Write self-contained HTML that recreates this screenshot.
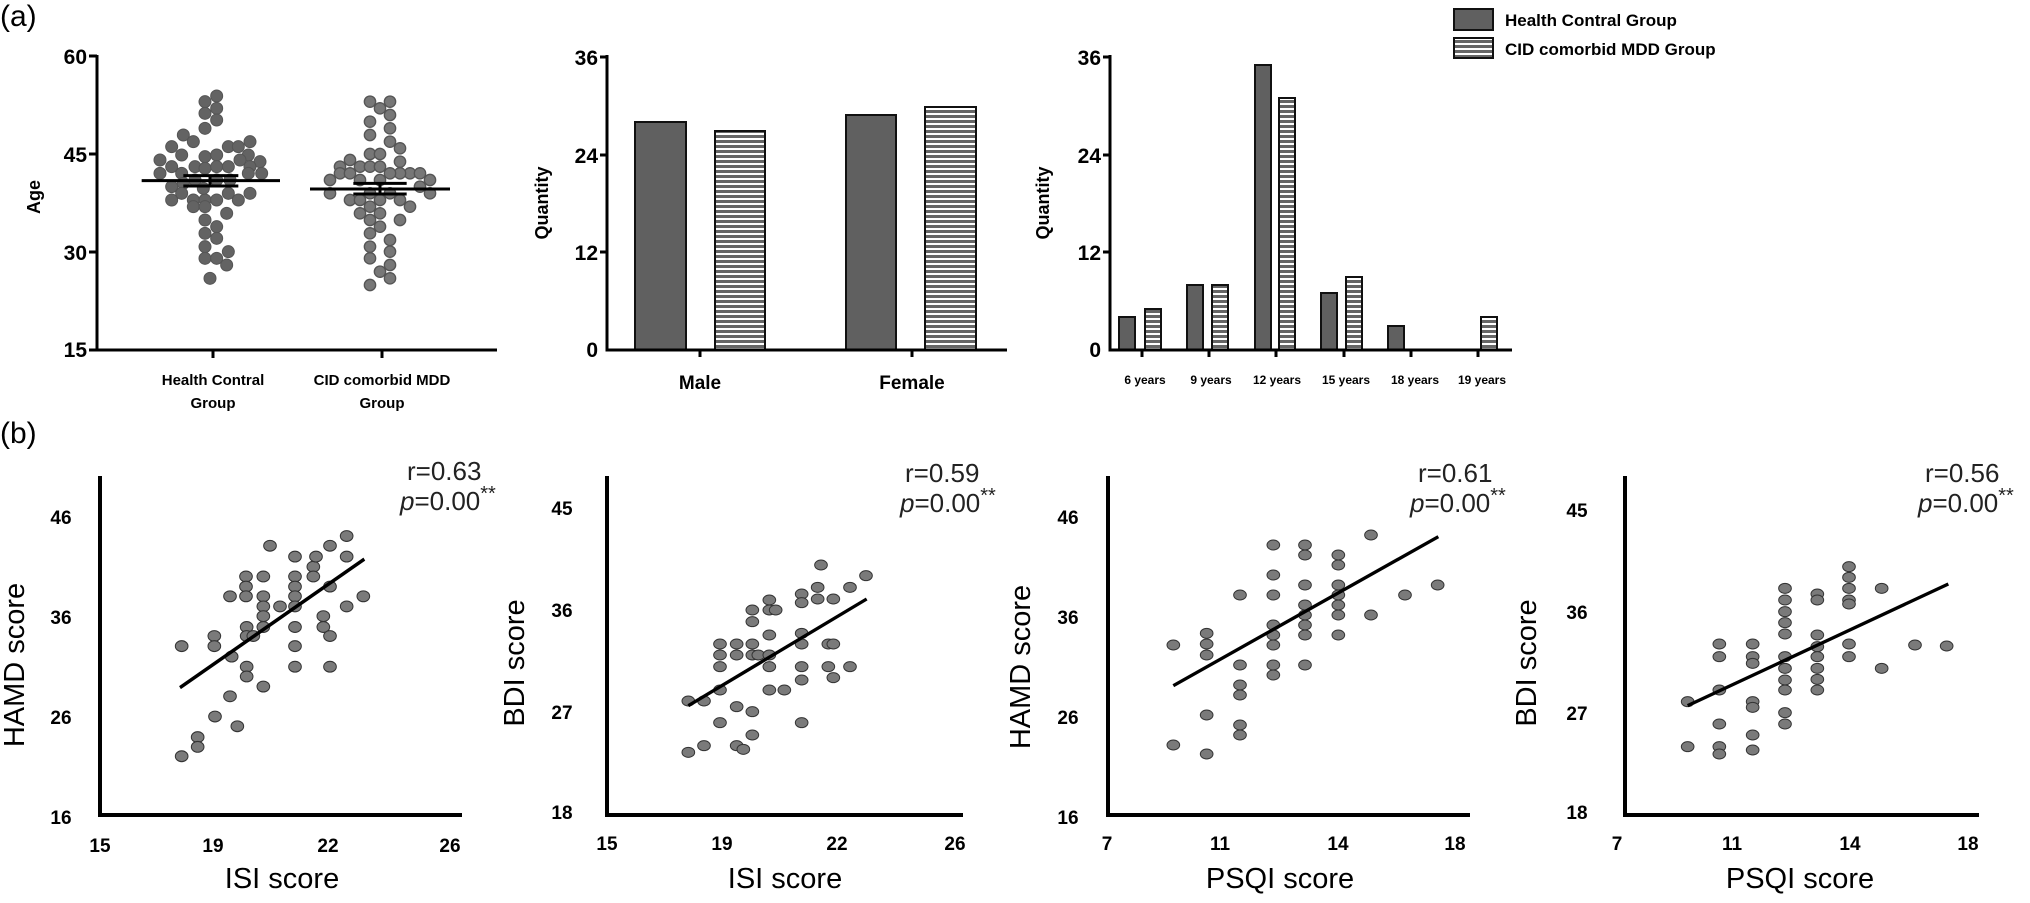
<!DOCTYPE html>
<html><head><meta charset="utf-8"><style>html,body{margin:0;padding:0;background:#fff}svg{display:block}</style></head><body>
<svg width="2030" height="903" viewBox="0 0 2030 903" xmlns="http://www.w3.org/2000/svg" font-family="'Liberation Sans', sans-serif">
<defs>
<pattern id="h" width="6" height="5" patternUnits="userSpaceOnUse"><rect width="6" height="5" fill="#fff"/><rect width="6" height="3" fill="#666"/></pattern>
</defs>
<rect width="2030" height="903" fill="#fff"/>
<text x="0" y="26" font-size="30">(a)</text>
<text x="0" y="443" font-size="30">(b)</text>

<!-- Panel a1 -->
<g stroke="#000" stroke-width="3" fill="none">
<path d="M97,55 V350 H497"/>
<path d="M89,56 H97 M89,154 H97 M89,252 H97 M89,350 H97 M213,350 V358 M382,350 V358"/>
</g>
<g font-size="21" font-weight="bold" text-anchor="end">
<text x="87" y="64">60</text><text x="87" y="162">45</text><text x="87" y="260">30</text><text x="87" y="357">15</text>
</g>
<text transform="translate(40,197) rotate(-90)" font-size="18" font-weight="bold" text-anchor="middle">Age</text>
<g font-size="15" font-weight="bold" text-anchor="middle">
<text x="213" y="385">Health Contral</text><text x="213" y="408">Group</text>
<text x="382" y="385">CID comorbid MDD</text><text x="382" y="408">Group</text>
</g>
<g transform="scale(0.33333)">
<g fill="#636363" stroke="#555" stroke-width="3">
<circle cx="650" cy="288" r="18"/><circle cx="615" cy="305" r="18"/><circle cx="650" cy="325" r="18"/><circle cx="615" cy="340" r="18"/><circle cx="650" cy="360" r="18"/><circle cx="615" cy="385" r="18"/><circle cx="550" cy="405" r="18"/><circle cx="580" cy="425" r="18"/><circle cx="515" cy="440" r="18"/><circle cx="685" cy="440" r="18"/><circle cx="715" cy="440" r="18"/><circle cx="750" cy="425" r="18"/><circle cx="480" cy="480" r="18"/><circle cx="545" cy="465" r="18"/><circle cx="615" cy="470" r="18"/><circle cx="650" cy="465" r="18"/><circle cx="745" cy="465" r="18"/><circle cx="780" cy="485" r="18"/><circle cx="515" cy="500" r="18"/><circle cx="480" cy="520" r="18"/><circle cx="545" cy="520" r="18"/><circle cx="585" cy="500" r="18"/><circle cx="615" cy="505" r="18"/><circle cx="650" cy="500" r="18"/><circle cx="685" cy="500" r="18"/><circle cx="720" cy="480" r="18"/><circle cx="750" cy="500" r="18"/><circle cx="785" cy="520" r="18"/><circle cx="515" cy="560" r="18"/><circle cx="550" cy="550" r="18"/><circle cx="585" cy="540" r="18"/><circle cx="650" cy="540" r="18"/><circle cx="690" cy="540" r="18"/><circle cx="745" cy="520" r="18"/><circle cx="515" cy="600" r="18"/><circle cx="580" cy="600" r="18"/><circle cx="615" cy="600" r="18"/><circle cx="650" cy="600" r="18"/><circle cx="685" cy="580" r="18"/><circle cx="715" cy="600" r="18"/><circle cx="750" cy="580" r="18"/><circle cx="580" cy="620" r="18"/><circle cx="615" cy="620" r="18"/><circle cx="680" cy="640" r="18"/><circle cx="615" cy="660" r="18"/><circle cx="650" cy="680" r="18"/><circle cx="615" cy="700" r="18"/><circle cx="650" cy="715" r="18"/><circle cx="615" cy="740" r="18"/><circle cx="685" cy="755" r="18"/><circle cx="615" cy="775" r="18"/><circle cx="650" cy="775" r="18"/><circle cx="680" cy="795" r="18"/><circle cx="630" cy="835" r="18"/><circle cx="545" cy="580" r="18"/><circle cx="610" cy="565" r="18"/>
</g>
<g fill="#777" stroke="#555" stroke-width="4">
<circle cx="1110" cy="305" r="17"/><circle cx="1140" cy="325" r="17"/><circle cx="1170" cy="305" r="17"/><circle cx="1170" cy="345" r="17"/><circle cx="1110" cy="365" r="17"/><circle cx="1170" cy="385" r="17"/><circle cx="1110" cy="405" r="17"/><circle cx="1170" cy="425" r="17"/><circle cx="1200" cy="445" r="17"/><circle cx="1110" cy="462" r="17"/><circle cx="1140" cy="462" r="17"/><circle cx="1200" cy="485" r="17"/><circle cx="1050" cy="480" r="17"/><circle cx="1080" cy="500" r="17"/><circle cx="1020" cy="500" r="17"/><circle cx="1110" cy="500" r="17"/><circle cx="1140" cy="500" r="17"/><circle cx="990" cy="540" r="17"/><circle cx="1020" cy="520" r="17"/><circle cx="1050" cy="520" r="17"/><circle cx="1230" cy="520" r="17"/><circle cx="1260" cy="520" r="17"/><circle cx="1290" cy="540" r="17"/><circle cx="1200" cy="520" r="17"/><circle cx="1170" cy="520" r="17"/><circle cx="1080" cy="540" r="17"/><circle cx="1140" cy="540" r="17"/><circle cx="990" cy="580" r="17"/><circle cx="1050" cy="600" r="17"/><circle cx="1080" cy="600" r="17"/><circle cx="1110" cy="580" r="17"/><circle cx="1140" cy="600" r="17"/><circle cx="1170" cy="580" r="17"/><circle cx="1200" cy="600" r="17"/><circle cx="1230" cy="620" r="17"/><circle cx="1290" cy="580" r="17"/><circle cx="1260" cy="560" r="17"/><circle cx="1080" cy="640" r="17"/><circle cx="1110" cy="620" r="17"/><circle cx="1140" cy="640" r="17"/><circle cx="1110" cy="660" r="17"/><circle cx="1140" cy="680" r="17"/><circle cx="1200" cy="660" r="17"/><circle cx="1110" cy="700" r="17"/><circle cx="1110" cy="740" r="17"/><circle cx="1170" cy="720" r="17"/><circle cx="1170" cy="755" r="17"/><circle cx="1110" cy="775" r="17"/><circle cx="1170" cy="795" r="17"/><circle cx="1140" cy="815" r="17"/><circle cx="1170" cy="835" r="17"/><circle cx="1110" cy="855" r="17"/>
</g>
<g stroke="#000" stroke-width="9" fill="none">
<path d="M425,542 H840 M550,527 H715 M550,558 H715 M630,527 V558"/>
<path d="M930,567 H1350 M1060,550 H1220 M1060,582 H1220 M1140,550 V582"/>
</g>
</g>

<!-- Panel a2 -->
<rect x="635" y="122" width="51" height="228" fill="#606060" stroke="#111" stroke-width="2"/>
<rect x="715" y="131" width="50" height="219" fill="url(#h)" stroke="#111" stroke-width="2"/>
<rect x="846" y="115" width="50" height="235" fill="#606060" stroke="#111" stroke-width="2"/>
<rect x="925" y="107" width="51" height="243" fill="url(#h)" stroke="#111" stroke-width="2"/>
<g stroke="#000" stroke-width="3" fill="none">
<path d="M607,55 V350 H1007"/>
<path d="M600,57 H607 M600,155 H607 M600,252 H607 M700,350 V357 M912,350 V357"/>
</g>
<g font-size="21" font-weight="bold" text-anchor="end">
<text x="598" y="65">36</text><text x="598" y="163">24</text><text x="598" y="260">12</text><text x="598" y="357">0</text>
</g>
<text transform="translate(548,203) rotate(-90)" font-size="18" font-weight="bold" text-anchor="middle">Quantity</text>
<g font-size="19" font-weight="bold" text-anchor="middle">
<text x="700" y="389">Male</text><text x="912" y="389">Female</text>
</g>

<!-- Panel a3 -->
<g stroke="#111" stroke-width="2">
<rect x="1119" y="317" width="16" height="33" fill="#606060"/>
<rect x="1145" y="309" width="16" height="41" fill="url(#h)"/>
<rect x="1187" y="285" width="16" height="65" fill="#606060"/>
<rect x="1212" y="285" width="16" height="65" fill="url(#h)"/>
<rect x="1255" y="65" width="16" height="285" fill="#606060"/>
<rect x="1279" y="98" width="16" height="252" fill="url(#h)"/>
<rect x="1321" y="293" width="16" height="57" fill="#606060"/>
<rect x="1346" y="277" width="16" height="73" fill="url(#h)"/>
<rect x="1388" y="326" width="16" height="24" fill="#606060"/>
<rect x="1481" y="317" width="16" height="33" fill="url(#h)"/>
</g>
<g stroke="#000" stroke-width="3" fill="none">
<path d="M1110,55 V350 H1512"/>
<path d="M1103,57 H1110 M1103,155 H1110 M1103,252 H1110 M1142,350 V357 M1209,350 V357 M1276,350 V357 M1344,350 V357 M1411,350 V357 M1478,350 V357"/>
</g>
<g font-size="21" font-weight="bold" text-anchor="end">
<text x="1101" y="65">36</text><text x="1101" y="163">24</text><text x="1101" y="260">12</text><text x="1101" y="357">0</text>
</g>
<text transform="translate(1049,203) rotate(-90)" font-size="18" font-weight="bold" text-anchor="middle">Quantity</text>
<g font-size="12" font-weight="bold" text-anchor="middle">
<text x="1145" y="384">6 years</text><text x="1211" y="384">9 years</text><text x="1277" y="384">12 years</text><text x="1346" y="384">15 years</text><text x="1415" y="384">18 years</text><text x="1482" y="384">19 years</text>
</g>
<!-- legend -->
<rect x="1454" y="9" width="39" height="21" fill="#606060" stroke="#111" stroke-width="2"/>
<rect x="1454" y="38" width="39" height="20" fill="url(#h)" stroke="#111" stroke-width="2"/>
<g font-size="17" font-weight="bold"><text x="1505" y="26">Health Contral Group</text><text x="1505" y="55">CID comorbid MDD Group</text></g>

<!-- Panel b common styles -->
<g font-size="19" font-weight="bold" text-anchor="middle">
<text x="61" y="524">46</text><text x="61" y="624">36</text><text x="61" y="724">26</text><text x="61" y="824">16</text>
<text x="100" y="852">15</text><text x="213" y="852">19</text><text x="328" y="852">22</text><text x="450" y="852">26</text>
<text x="562" y="515">45</text><text x="562" y="617">36</text><text x="562" y="719">27</text><text x="562" y="819">18</text>
<text x="607" y="850">15</text><text x="722" y="850">19</text><text x="837" y="850">22</text><text x="955" y="850">26</text>
<text x="1068" y="524">46</text><text x="1068" y="624">36</text><text x="1068" y="724">26</text><text x="1068" y="824">16</text>
<text x="1107" y="850">7</text><text x="1220" y="850">11</text><text x="1338" y="850">14</text><text x="1455" y="850">18</text>
<text x="1577" y="517">45</text><text x="1577" y="619">36</text><text x="1577" y="720">27</text><text x="1577" y="819">18</text>
<text x="1617" y="850">7</text><text x="1732" y="850">11</text><text x="1850" y="850">14</text><text x="1968" y="850">18</text>
</g>
<g stroke="#000" stroke-width="4" fill="none">
<path d="M100,476 V815 H462"/>
<path d="M607,476 V815 H963"/>
<path d="M1108,476 V815 H1470"/>
<path d="M1625,476 V815 H1979"/>
</g>
<g font-size="29" text-anchor="middle">
<text x="282" y="888">ISI score</text><text x="785" y="888">ISI score</text>
<text x="1280" y="888">PSQI score</text><text x="1800" y="888">PSQI score</text>
<text transform="translate(24,665) rotate(-90)">HAMD score</text>
<text transform="translate(524,663) rotate(-90)">BDI score</text>
<text transform="translate(1030,667) rotate(-90)">HAMD score</text>
<text transform="translate(1536,663) rotate(-90)">BDI score</text>
</g>
<g font-size="26" fill="#222">
<text x="407" y="480">r=0.63</text><text x="400" y="510"><tspan font-style="italic">p</tspan>=0.00<tspan font-size="20" dy="-10">**</tspan></text>
<text x="905" y="482">r=0.59</text><text x="900" y="512"><tspan font-style="italic">p</tspan>=0.00<tspan font-size="20" dy="-10">**</tspan></text>
<text x="1418" y="482">r=0.61</text><text x="1410" y="512"><tspan font-style="italic">p</tspan>=0.00<tspan font-size="20" dy="-10">**</tspan></text>
<text x="1925" y="482">r=0.56</text><text x="1918" y="512"><tspan font-style="italic">p</tspan>=0.00<tspan font-size="20" dy="-10">**</tspan></text>
</g>

<!-- b1 points -->
<g transform="translate(0,340) scale(0.33333,0.361)">
<g fill="#7a7a7a" stroke="#333" stroke-width="3">
<ellipse cx="545" cy="848" rx="19" ry="15"/><ellipse cx="643" cy="820" rx="19" ry="15"/><ellipse cx="643" cy="848" rx="19" ry="15"/><ellipse cx="695" cy="877" rx="19" ry="15"/><ellipse cx="738" cy="655" rx="19" ry="15"/><ellipse cx="738" cy="683" rx="19" ry="15"/><ellipse cx="738" cy="710" rx="19" ry="15"/><ellipse cx="690" cy="710" rx="19" ry="15"/><ellipse cx="790" cy="655" rx="19" ry="15"/><ellipse cx="790" cy="710" rx="19" ry="15"/><ellipse cx="790" cy="738" rx="19" ry="15"/><ellipse cx="790" cy="765" rx="19" ry="15"/><ellipse cx="790" cy="795" rx="19" ry="15"/><ellipse cx="740" cy="795" rx="19" ry="15"/><ellipse cx="740" cy="820" rx="19" ry="15"/><ellipse cx="760" cy="820" rx="19" ry="15"/><ellipse cx="740" cy="905" rx="19" ry="15"/><ellipse cx="740" cy="932" rx="19" ry="15"/><ellipse cx="790" cy="960" rx="19" ry="15"/><ellipse cx="840" cy="738" rx="19" ry="15"/><ellipse cx="810" cy="570" rx="19" ry="15"/><ellipse cx="885" cy="600" rx="19" ry="15"/><ellipse cx="885" cy="655" rx="19" ry="15"/><ellipse cx="885" cy="683" rx="19" ry="15"/><ellipse cx="885" cy="710" rx="19" ry="15"/><ellipse cx="885" cy="738" rx="19" ry="15"/><ellipse cx="885" cy="795" rx="19" ry="15"/><ellipse cx="885" cy="848" rx="19" ry="15"/><ellipse cx="885" cy="905" rx="19" ry="15"/><ellipse cx="940" cy="628" rx="19" ry="15"/><ellipse cx="940" cy="655" rx="19" ry="15"/><ellipse cx="948" cy="600" rx="19" ry="15"/><ellipse cx="990" cy="570" rx="19" ry="15"/><ellipse cx="990" cy="683" rx="19" ry="15"/><ellipse cx="970" cy="765" rx="19" ry="15"/><ellipse cx="970" cy="795" rx="19" ry="15"/><ellipse cx="990" cy="820" rx="19" ry="15"/><ellipse cx="990" cy="905" rx="19" ry="15"/><ellipse cx="1040" cy="543" rx="19" ry="15"/><ellipse cx="1040" cy="600" rx="19" ry="15"/><ellipse cx="1040" cy="738" rx="19" ry="15"/><ellipse cx="1090" cy="710" rx="19" ry="15"/><ellipse cx="690" cy="987" rx="19" ry="15"/><ellipse cx="645" cy="1043" rx="19" ry="15"/><ellipse cx="712" cy="1070" rx="19" ry="15"/><ellipse cx="593" cy="1100" rx="19" ry="15"/><ellipse cx="593" cy="1127" rx="19" ry="15"/><ellipse cx="545" cy="1153" rx="19" ry="15"/>
</g>
<path d="M540,963 L1093,607" stroke="#000" stroke-width="10" fill="none"/>
</g>

<!-- b2 points -->
<g transform="translate(500,420) scale(0.33333)">
<g fill="#7a7a7a" stroke="#333" stroke-width="3">
<ellipse cx="565" cy="843" rx="19" ry="15"/><ellipse cx="612" cy="843" rx="19" ry="15"/><ellipse cx="660" cy="810" rx="19" ry="15"/><ellipse cx="660" cy="740" rx="19" ry="15"/><ellipse cx="660" cy="705" rx="19" ry="15"/><ellipse cx="660" cy="672" rx="19" ry="15"/><ellipse cx="710" cy="672" rx="19" ry="15"/><ellipse cx="710" cy="705" rx="19" ry="15"/><ellipse cx="757" cy="672" rx="19" ry="15"/><ellipse cx="757" cy="705" rx="19" ry="15"/><ellipse cx="757" cy="605" rx="19" ry="15"/><ellipse cx="757" cy="570" rx="19" ry="15"/><ellipse cx="775" cy="705" rx="19" ry="15"/><ellipse cx="808" cy="540" rx="19" ry="15"/><ellipse cx="808" cy="570" rx="19" ry="15"/><ellipse cx="827" cy="570" rx="19" ry="15"/><ellipse cx="808" cy="645" rx="19" ry="15"/><ellipse cx="808" cy="705" rx="19" ry="15"/><ellipse cx="808" cy="740" rx="19" ry="15"/><ellipse cx="808" cy="810" rx="19" ry="15"/><ellipse cx="853" cy="810" rx="19" ry="15"/><ellipse cx="905" cy="522" rx="19" ry="15"/><ellipse cx="905" cy="548" rx="19" ry="15"/><ellipse cx="905" cy="640" rx="19" ry="15"/><ellipse cx="905" cy="672" rx="19" ry="15"/><ellipse cx="905" cy="740" rx="19" ry="15"/><ellipse cx="905" cy="780" rx="19" ry="15"/><ellipse cx="905" cy="908" rx="19" ry="15"/><ellipse cx="953" cy="502" rx="19" ry="15"/><ellipse cx="953" cy="537" rx="19" ry="15"/><ellipse cx="1000" cy="537" rx="19" ry="15"/><ellipse cx="985" cy="672" rx="19" ry="15"/><ellipse cx="1000" cy="672" rx="19" ry="15"/><ellipse cx="985" cy="740" rx="19" ry="15"/><ellipse cx="1000" cy="773" rx="19" ry="15"/><ellipse cx="1050" cy="502" rx="19" ry="15"/><ellipse cx="1050" cy="740" rx="19" ry="15"/><ellipse cx="1098" cy="467" rx="19" ry="15"/><ellipse cx="963" cy="435" rx="19" ry="15"/><ellipse cx="710" cy="860" rx="19" ry="15"/><ellipse cx="757" cy="875" rx="19" ry="15"/><ellipse cx="660" cy="908" rx="19" ry="15"/><ellipse cx="757" cy="945" rx="19" ry="15"/><ellipse cx="612" cy="977" rx="19" ry="15"/><ellipse cx="710" cy="977" rx="19" ry="15"/><ellipse cx="730" cy="988" rx="19" ry="15"/><ellipse cx="565" cy="997" rx="19" ry="15"/>
</g>
<path d="M565,857 L1100,537" stroke="#000" stroke-width="10" fill="none"/>
</g>

<!-- b3 points -->
<g transform="translate(1010,420) scale(0.33333)">
<g fill="#7a7a7a" stroke="#333" stroke-width="3">
<ellipse cx="490" cy="675" rx="19" ry="15"/><ellipse cx="490" cy="975" rx="19" ry="15"/>
<ellipse cx="590" cy="640" rx="19" ry="15"/><ellipse cx="590" cy="672" rx="19" ry="15"/><ellipse cx="590" cy="705" rx="19" ry="15"/><ellipse cx="590" cy="885" rx="19" ry="15"/><ellipse cx="590" cy="1002" rx="19" ry="15"/>
<ellipse cx="690" cy="525" rx="19" ry="15"/><ellipse cx="690" cy="735" rx="19" ry="15"/><ellipse cx="690" cy="795" rx="19" ry="15"/><ellipse cx="690" cy="825" rx="19" ry="15"/><ellipse cx="690" cy="915" rx="19" ry="15"/><ellipse cx="690" cy="945" rx="19" ry="15"/>
<ellipse cx="790" cy="375" rx="19" ry="15"/><ellipse cx="790" cy="465" rx="19" ry="15"/><ellipse cx="790" cy="525" rx="19" ry="15"/><ellipse cx="790" cy="615" rx="19" ry="15"/><ellipse cx="790" cy="645" rx="19" ry="15"/><ellipse cx="790" cy="675" rx="19" ry="15"/><ellipse cx="790" cy="735" rx="19" ry="15"/><ellipse cx="790" cy="765" rx="19" ry="15"/>
<ellipse cx="885" cy="375" rx="19" ry="15"/><ellipse cx="885" cy="405" rx="19" ry="15"/><ellipse cx="885" cy="495" rx="19" ry="15"/><ellipse cx="885" cy="555" rx="19" ry="15"/><ellipse cx="885" cy="585" rx="19" ry="15"/><ellipse cx="885" cy="615" rx="19" ry="15"/><ellipse cx="885" cy="645" rx="19" ry="15"/><ellipse cx="885" cy="735" rx="19" ry="15"/>
<ellipse cx="985" cy="405" rx="19" ry="15"/><ellipse cx="985" cy="435" rx="19" ry="15"/><ellipse cx="985" cy="495" rx="19" ry="15"/><ellipse cx="985" cy="525" rx="19" ry="15"/><ellipse cx="985" cy="555" rx="19" ry="15"/><ellipse cx="985" cy="585" rx="19" ry="15"/><ellipse cx="985" cy="645" rx="19" ry="15"/>
<ellipse cx="1083" cy="345" rx="19" ry="15"/><ellipse cx="1083" cy="585" rx="19" ry="15"/><ellipse cx="1185" cy="525" rx="19" ry="15"/><ellipse cx="1283" cy="495" rx="19" ry="15"/>
</g>
<path d="M490,797 L1285,350" stroke="#000" stroke-width="10" fill="none"/>
</g>

<!-- b4 points -->
<g transform="translate(1510,420) scale(0.33333)">
<g fill="#7a7a7a" stroke="#333" stroke-width="3">
<ellipse cx="533" cy="845" rx="19" ry="15"/><ellipse cx="533" cy="980" rx="19" ry="15"/>
<ellipse cx="628" cy="672" rx="19" ry="15"/><ellipse cx="628" cy="710" rx="19" ry="15"/><ellipse cx="628" cy="810" rx="19" ry="15"/><ellipse cx="628" cy="912" rx="19" ry="15"/><ellipse cx="628" cy="980" rx="19" ry="15"/><ellipse cx="628" cy="1002" rx="19" ry="15"/>
<ellipse cx="728" cy="672" rx="19" ry="15"/><ellipse cx="728" cy="710" rx="19" ry="15"/><ellipse cx="728" cy="730" rx="19" ry="15"/><ellipse cx="728" cy="845" rx="19" ry="15"/><ellipse cx="728" cy="862" rx="19" ry="15"/><ellipse cx="728" cy="945" rx="19" ry="15"/><ellipse cx="728" cy="990" rx="19" ry="15"/>
<ellipse cx="825" cy="505" rx="19" ry="15"/><ellipse cx="825" cy="540" rx="19" ry="15"/><ellipse cx="825" cy="575" rx="19" ry="15"/><ellipse cx="825" cy="608" rx="19" ry="15"/><ellipse cx="825" cy="642" rx="19" ry="15"/><ellipse cx="825" cy="710" rx="19" ry="15"/><ellipse cx="825" cy="745" rx="19" ry="15"/><ellipse cx="825" cy="780" rx="19" ry="15"/><ellipse cx="825" cy="810" rx="19" ry="15"/><ellipse cx="825" cy="878" rx="19" ry="15"/><ellipse cx="825" cy="912" rx="19" ry="15"/>
<ellipse cx="922" cy="522" rx="19" ry="15"/><ellipse cx="922" cy="540" rx="19" ry="15"/><ellipse cx="922" cy="645" rx="19" ry="15"/><ellipse cx="922" cy="680" rx="19" ry="15"/><ellipse cx="922" cy="710" rx="19" ry="15"/><ellipse cx="922" cy="745" rx="19" ry="15"/><ellipse cx="922" cy="778" rx="19" ry="15"/><ellipse cx="922" cy="810" rx="19" ry="15"/>
<ellipse cx="1017" cy="440" rx="19" ry="15"/><ellipse cx="1017" cy="472" rx="19" ry="15"/><ellipse cx="1017" cy="505" rx="19" ry="15"/><ellipse cx="1017" cy="540" rx="19" ry="15"/><ellipse cx="1017" cy="552" rx="19" ry="15"/><ellipse cx="1017" cy="672" rx="19" ry="15"/><ellipse cx="1017" cy="710" rx="19" ry="15"/>
<ellipse cx="1115" cy="505" rx="19" ry="15"/><ellipse cx="1115" cy="745" rx="19" ry="15"/><ellipse cx="1215" cy="675" rx="19" ry="15"/><ellipse cx="1310" cy="678" rx="19" ry="15"/>
</g>
<path d="M533,857 L1315,492" stroke="#000" stroke-width="10" fill="none"/>
</g>
</svg>
</body></html>
